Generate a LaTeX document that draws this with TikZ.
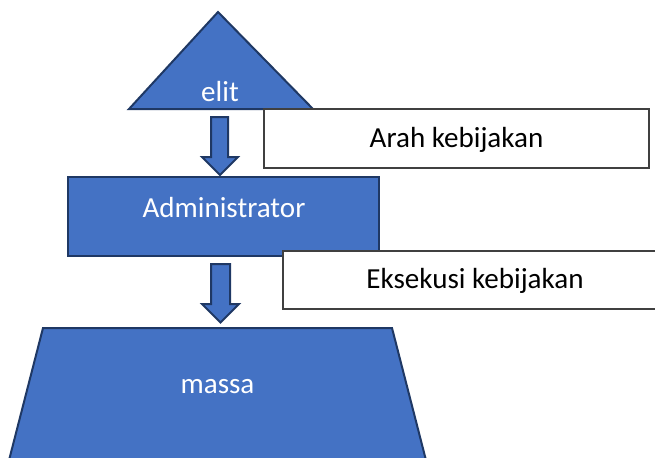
\documentclass[tikz,border=0pt]{standalone}
\usepackage{fontspec}
\setmainfont{Carlito}
\usepackage{tikz}
\usetikzlibrary{positioning}

\definecolor{shapeblue}{RGB}{68,114,196}
\definecolor{shapeedge}{RGB}{31,56,100}
\definecolor{boxedge}{RGB}{64,64,64}

\tikzset{
  bluepart/.style={fill=shapeblue, draw=shapeedge, line width=1.5pt, line join=miter},
  notebox/.style={fill=white, draw=boxedge, line width=0.9pt},
  whitelabel/.style={text=white, inner sep=0.75pt, font=\fontsize{21.8}{26}\selectfont},
  blacklabel/.style={text=black, inner sep=0.75pt, font=\fontsize{21.8}{26}\selectfont}
}

\begin{document}
\begin{tikzpicture}[x=0.75pt,y=0.75pt,yscale=-1,xscale=1]
\useasboundingbox (0,0) rectangle (655,457);
\clip (0,0) rectangle (655,457);

%Shape: Triangle [elit]
\draw [bluepart] (218,12) -- (313,109) -- (129,109) -- cycle ;
%Shape: Down Arrow [arah]
\draw [bluepart] (211,117) -- (228,117) -- (228,157) -- (238,157) -- (220,175) -- (202,157) -- (211,157) -- cycle ;
%Shape: Rectangle [arah kebijakan]
\draw [notebox] (264,109) rectangle (649,168) ;
%Shape: Rectangle [administrator]
\draw [bluepart] (68,177) rectangle (379,256) ;
%Shape: Down Arrow [eksekusi]
\draw [bluepart] (211,264) -- (230,264) -- (230,304) -- (239,304) -- (220.5,322.5) -- (202,304) -- (211,304) -- cycle ;
%Shape: Rectangle [eksekusi kebijakan]
\draw [notebox] (283,251) rectangle (667,309) ;
%Shape: Trapezoid [massa]
\draw [bluepart] (43,328) -- (392,328) -- (428.5,470) -- (6.5,470) -- cycle ;

% Text Node
\node [whitelabel] (elit) at (220,92) {elit};
% Text Node
\node [blacklabel] (arah) at (456.5,140) {Arah kebijakan};
% Text Node
\node [whitelabel] (admin) at (224,208) {Administrator};
% Text Node
\node [blacklabel] (eksekusi) at (475,281) {Eksekusi kebijakan};
% Text Node
\node [whitelabel] (massa) at (217.5,387) {massa};

\end{tikzpicture}
\end{document}
